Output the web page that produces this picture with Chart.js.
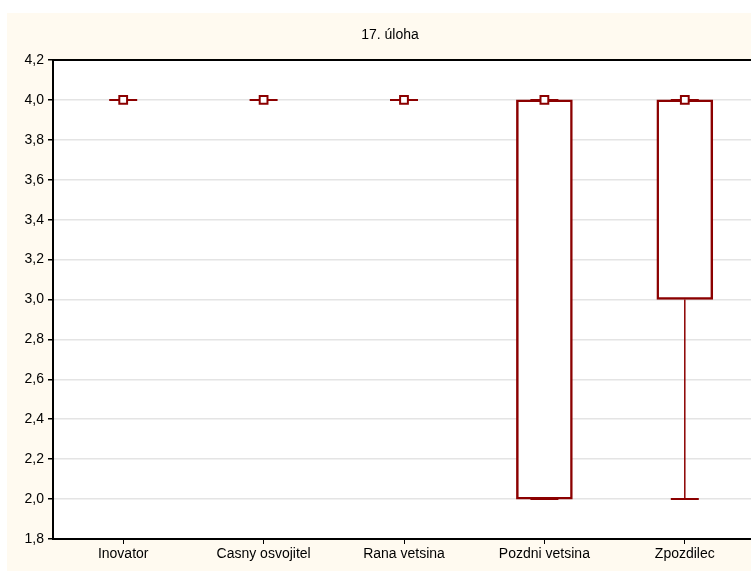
<!DOCTYPE html>
<html>
<head>
<meta charset="utf-8">
<script src="https://cdn.jsdelivr.net/npm/chart.js@4/dist/chart.umd.min.js"></script>
<style>
  html, body { margin: 0; padding: 0; background: #fff; overflow: hidden; width: 751px; height: 572px; }
  #panel { position: absolute; left: 7px; top: 13px; width: 800px; height: 558px; background: #fffaf0; }
</style>
</head>
<body>
<div id="panel"><canvas id="box" width="800" height="558"></canvas></div>
<script>
const categories = ['Inovator', 'Casny osvojitel', 'Rana vetsina', 'Pozdni vetsina', 'Zpozdilec'];
const medians = [4, 4, 4, 4, 4];
const q1 = [4, 4, 4, 2, 3];
const q3 = [4, 4, 4, 4, 4];
const whiskerMin = [4, 4, 4, 2, 2];
const whiskerMax = [4, 4, 4, 4, 4];

const chartTitle = '17. úloha';
const red = '#8b0000';
const fontFamily = 'Arial, "Liberation Sans", sans-serif';

// white plot area, whiskers under the boxes, black frame and title on top
const boxExtras = {
  id: 'boxExtras',
  beforeDraw(chart) {
    const { ctx, chartArea: a } = chart;
    ctx.save();
    ctx.fillStyle = '#fff';
    ctx.fillRect(a.left, a.top, a.right - a.left, a.bottom - a.top);
    ctx.restore();
  },
  beforeDatasetsDraw(chart) {
    const { ctx, scales: { x, y } } = chart;
    ctx.save();
    ctx.strokeStyle = red;
    categories.forEach((c, i) => {
      const px = x.getPixelForValue(i);
      ctx.lineWidth = 1.5;
      ctx.beginPath();
      ctx.moveTo(px, y.getPixelForValue(q1[i]));
      ctx.lineTo(px, y.getPixelForValue(whiskerMin[i]));
      ctx.moveTo(px, y.getPixelForValue(q3[i]));
      ctx.lineTo(px, y.getPixelForValue(whiskerMax[i]));
      ctx.stroke();
      ctx.lineWidth = 2;
      ctx.beginPath();
      [whiskerMin[i], whiskerMax[i]].forEach(v => {
        const py = y.getPixelForValue(v);
        ctx.moveTo(px - 14, py);
        ctx.lineTo(px + 14, py);
      });
      ctx.stroke();
    });
    ctx.restore();
  },
  afterDraw(chart) {
    const { ctx, chartArea: a } = chart;
    ctx.save();
    ctx.strokeStyle = '#000';
    ctx.lineWidth = 2;
    ctx.strokeRect(a.left, a.top, a.right - a.left, a.bottom - a.top);
    ctx.fillStyle = '#000';
    ctx.font = '14px ' + fontFamily;
    ctx.textAlign = 'center';
    ctx.textBaseline = 'middle';
    ctx.fillText(chartTitle, 383, 22);
    ctx.restore();
  }
};

Chart.defaults.font.family = fontFamily;
Chart.defaults.font.size = 14;
Chart.defaults.color = '#000';

new Chart(document.getElementById('box'), {
  type: 'bar',
  data: {
    labels: categories,
    datasets: [{
      data: categories.map((c, i) => [q1[i], q3[i]]),
      backgroundColor: '#fff',
      borderColor: red,
      borderWidth: 2.5,
      borderSkipped: false,
      barThickness: 56,
      order: 2
    }, {
      type: 'line',
      data: medians,
      showLine: false,
      pointStyle: 'rect',
      pointRadius: 5.5,
      borderColor: red,
      backgroundColor: '#fff',
      borderWidth: 2,
      order: 1
    }]
  },
  options: {
    responsive: false,
    animation: false,
    layout: { padding: { left: 0, right: 52, top: 47, bottom: 0 } },
    plugins: {
      legend: { display: false },
      tooltip: { enabled: false },
      title: { display: false }
    },
    scales: {
      x: {
        grid: { drawOnChartArea: false, drawTicks: true, tickLength: 5, tickColor: '#000', offset: false },
        border: { color: '#000', width: 2 },
        ticks: { padding: 2, maxRotation: 0 },
        afterFit(scale) { scale.height = 32; }
      },
      y: {
        min: 1.8,
        max: 4.2,
        grid: { color: '#e4e4e4', lineWidth: 1.5, tickColor: '#000', tickLength: 5 },
        border: { color: '#000', width: 2 },
        ticks: {
          stepSize: 0.2,
          padding: 4,
          callback: v => v.toFixed(1).replace('.', ',')
        },
        afterFit(scale) { scale.width = 46; }
      }
    }
  },
  plugins: [boxExtras]
});
</script>
</body>
</html>
